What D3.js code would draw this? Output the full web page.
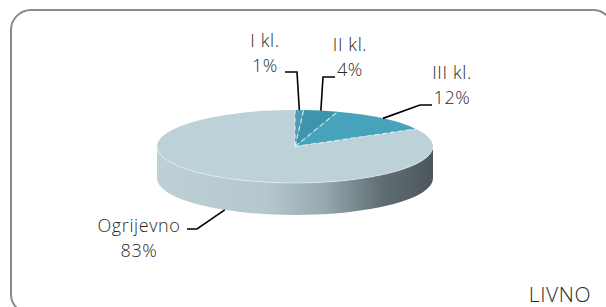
<!DOCTYPE html>
<html>
<head>
<meta charset="utf-8">
<script src="https://cdn.jsdelivr.net/npm/d3@7"></script>
<style>
  html, body { margin: 0; padding: 0; background: #fff; }
  svg { display: block; }
  .lbl { font-family: "Open Sans", sans-serif; font-weight: 300; font-size: 18px; fill: #2a2a2a; letter-spacing: 0.6px; }
</style>
</head>
<body>
<svg width="606" height="307"></svg>
<script>
const categories = ['I kl.', 'II kl.', 'III kl.', 'Ogrijevno'];
const shares = [1, 4, 12, 83]; // %
const colors = ['#4a9db2', '#3d95ab', '#46a3bb', '#bdd1d8'];
const title = 'LIVNO';

// label placement (layout only): text centre/baseline, elbow point, elbow direction
const labelPos = [
  { x: 265, y: 47, ex: 297, ey: 72, dx: -12 },
  { x: 350, y: 51, ex: 323, ey: 77, dx: 12 },
  { x: 452, y: 79, ex: 420, ey: 105, dx: 12 },
  { x: 139, y: 232, ex: 197, ey: 229, dx: -10 }
];

const cx = 295, cy = 146.5, rx = 138, ry = 36.5, depth = 32;

const svg = d3.select('svg');
const defs = svg.append('defs');

const grad = defs.append('linearGradient')
  .attr('id', 'wall')
  .attr('gradientUnits', 'userSpaceOnUse')
  .attr('x1', cx - rx).attr('x2', cx + rx).attr('y1', 0).attr('y2', 0);
[[0, '#bfd1d7'], [0.4, '#b4c7ce'], [0.6, '#97aab1'], [0.82, '#5f6d72'], [1, '#4c575b']]
  .forEach(([o, c]) => grad.append('stop').attr('offset', o).attr('stop-color', c));

// frame
svg.append('rect')
  .attr('x', 11).attr('y', 10)
  .attr('width', 602).attr('height', 304)
  .attr('rx', 20).attr('ry', 20)
  .attr('fill', 'none')
  .attr('stroke', '#8a8a8a')
  .attr('stroke-width', 2);

const xs = d3.scaleLinear().domain([-1, 1]).range([cx - rx, cx + rx]);
const ys = d3.scaleLinear().domain([-1, 1]).range([cy - ry, cy + ry]);
const pt = (a, dy = 0) => [xs(Math.sin(a)), ys(-Math.cos(a)) + dy];

const arcs = d3.pie().sort(null).value(d => d)(shares);

// side wall (front half only)
const g = svg.append('g');
arcs.forEach((a, i) => {
  const a0 = Math.max(a.startAngle, Math.PI / 2);
  const a1 = Math.min(a.endAngle, 3 * Math.PI / 2);
  if (a1 <= a0) return;
  const p0 = pt(a0), p1 = pt(a1), q0 = pt(a0, depth), q1 = pt(a1, depth);
  const large = a1 - a0 > Math.PI ? 1 : 0;
  g.append('path')
    .attr('d', `M${p0}A${rx},${ry} 0 ${large} 1 ${p1}L${q1}A${rx},${ry} 0 ${large} 0 ${q0}Z`)
    .attr('fill', 'url(#wall)');
});

// top faces
arcs.forEach((a, i) => {
  const p0 = pt(a.startAngle), p1 = pt(a.endAngle);
  const large = a.endAngle - a.startAngle > Math.PI ? 1 : 0;
  g.append('path')
    .attr('d', `M${cx},${cy}L${p0}A${rx},${ry} 0 ${large} 1 ${p1}Z`)
    .attr('fill', colors[i]);
});

// light front rim
g.append('path')
  .attr('d', `M${pt(Math.PI / 2)}A${rx},${ry} 0 0 1 ${pt(3 * Math.PI / 2)}`)
  .attr('fill', 'none')
  .attr('stroke', '#fff')
  .attr('stroke-opacity', 0.45)
  .attr('stroke-width', 1);

// dashed slice borders
arcs.forEach(a => {
  const p = pt(a.startAngle);
  g.append('line')
    .attr('x1', cx).attr('y1', cy)
    .attr('x2', p[0]).attr('y2', p[1])
    .attr('stroke', '#e8f2f5')
    .attr('stroke-opacity', 0.75)
    .attr('stroke-dasharray', '5,3')
    .attr('stroke-width', 1.3);
});

// leaders + labels
arcs.forEach((a, i) => {
  const mid = (a.startAngle + a.endAngle) / 2;
  const anchor = pt(mid, Math.cos(mid) < 0 ? depth : 0);
  const L = labelPos[i];
  svg.append('path')
    .attr('d', d3.line()([[L.ex + L.dx, L.ey], [L.ex, L.ey], anchor]))
    .attr('fill', 'none')
    .attr('stroke', '#000')
    .attr('stroke-width', 1.6);

  const t = svg.append('text')
    .attr('class', 'lbl')
    .attr('text-anchor', 'middle')
    .attr('x', L.x).attr('y', L.y);
  t.append('tspan').attr('x', L.x).text(categories[i]);
  t.append('tspan').attr('x', L.x).attr('dy', 25).text(shares[i] + '%');
});

svg.append('text')
  .attr('class', 'lbl')
  .attr('x', 560).attr('y', 302)
  .attr('text-anchor', 'middle')
  .style('font-size', '21px')
  .text(title);
</script>
</body>
</html>
